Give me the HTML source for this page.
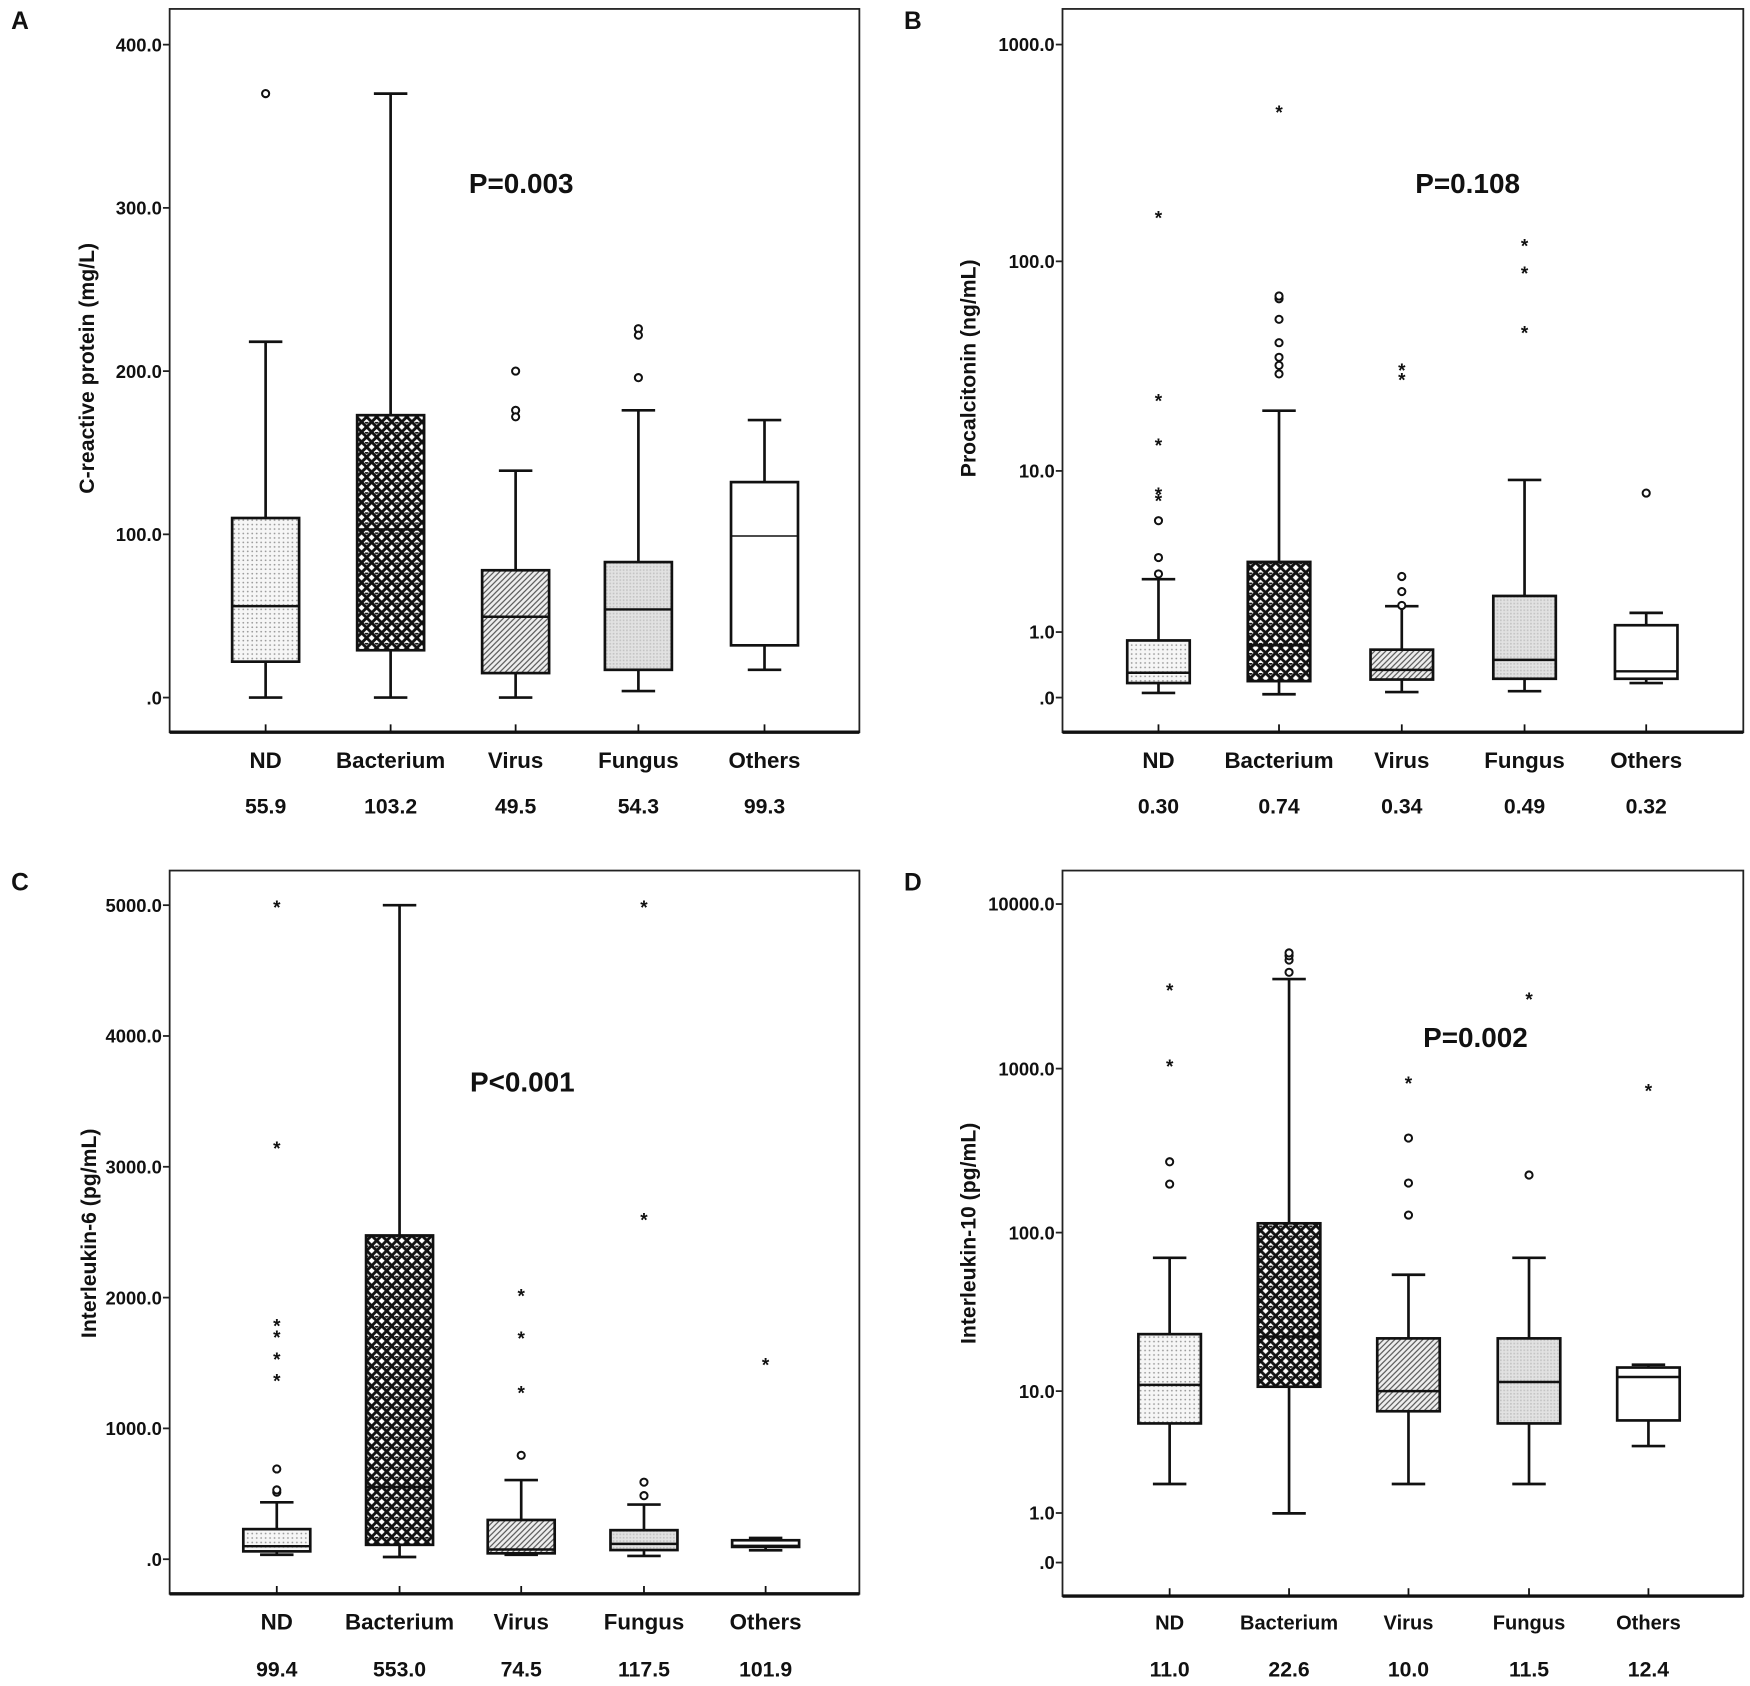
<!DOCTYPE html>
<html><head><meta charset="utf-8"><style>
html,body{margin:0;padding:0;background:#fff}
svg{display:block}
text{font-family:"Liberation Sans",Arial,sans-serif;font-weight:bold;fill:#111}
</style></head><body>
<svg id="chart" width="1750" height="1686" viewBox="0 0 1568 1510.6" preserveAspectRatio="none" xmlns="http://www.w3.org/2000/svg">
<defs>
<pattern id="pDot" width="4" height="4" patternUnits="userSpaceOnUse"><rect width="4" height="4" fill="#f6f6f6"/><circle cx="2" cy="2" r="0.8" fill="#999"/></pattern>
<pattern id="pCross" width="9" height="9" patternUnits="userSpaceOnUse"><rect width="9" height="9" fill="#fff"/><path d="M0 0L9 9M9 0L0 9" stroke="#111" stroke-width="2.6"/><circle cx="4.5" cy="0" r="1.6" fill="#111"/></pattern>
<pattern id="pHatch" width="5" height="5" patternUnits="userSpaceOnUse"><rect width="5" height="5" fill="#eee"/><path d="M-1 6L6 -1M-1 1L1 -1M4 6L6 4" stroke="#555" stroke-width="1.1"/></pattern>
<pattern id="pFine" width="3" height="3" patternUnits="userSpaceOnUse"><rect width="3" height="3" fill="#e2e2e2"/><rect width="1.5" height="1.5" fill="#c4c4c4"/></pattern>
</defs>
</svg>
<script>
// ---- data ----
const categories = ["ND","Bacterium","Virus","Fungus","Others"];
// [min, q1, median, q3, max]
const crpStats = [[0,22,56,110,218],[0,29,103,173,370],[0,15,49.5,78,139],[4,17,54,83,176],[17,32,99,132,170]];
const crpOutliers = [[370],[],[200,176,172],[196,226,222],[]];
const crpExtremes = [[],[],[],[],[]];
const crpMedianLabels = ["55.9","103.2","49.5","54.3","99.3"];
const crpTicks = [0,100,200,300,400];
const crpTickLabels = [".0","100.0","200.0","300.0","400.0"];

const pctStats = [[0.05,0.166,0.30,0.83,2.5],[0.036,0.19,0.74,3.2,19.8],[0.06,0.21,0.34,0.66,1.63],[0.07,0.22,0.49,1.93,9.0],[0.166,0.22,0.32,1.15,1.45]];
const pctOutliers = [[2.7,3.4,5.5],[29.7,32.6,35.6,41.7,53.7,67,69],[1.65,2.07,2.6],[],[7.7]];
const pctExtremes = [[7.2,7.8,13.8,22.7,163],[500],[28.6,31.6],[47.6,90,121],[]];
const pctMedianLabels = ["0.30","0.74","0.34","0.49","0.32"];
const pctTicks = [0,1,10,100,1000];
const pctTickLabels = [".0","1.0","10.0","100.0","1000.0"];

const il6Stats = [[34,60,99.4,230,435],[17,110,553,2475,5000],[34,45,74.5,300,605],[25,70,117.5,222,418],[68,94,101.9,145,162]];
const il6Outliers = [[512,530,690],[],[794],[486,589],[]];
const il6Extremes = [[1380,1545,1715,1800,3157,5000],[],[1288,1706,2030],[2611,5000],[1502]];
const il6MedianLabels = ["99.4","553.0","74.5","117.5","101.9"];
const il6Ticks = [0,1000,2000,3000,4000,5000];
const il6TickLabels = [".0","1000.0","2000.0","3000.0","4000.0","5000.0"];

const il10Stats = [[2.0,6.0,11.0,23.4,70],[0.99,10.7,22.6,114,3500],[2.0,7.3,10.0,22,55],[2.0,6.0,11.5,22,70],[4.1,6.3,12.4,14.3,14.9]];
const il10Outliers = [[198,271],[3850,4570,4850,5050],[128,201,378],[225],[]];
const il10Extremes = [[1063,3090],[],[841],[2720],[754]];
const il10MedianLabels = ["11.0","22.6","10.0","11.5","12.4"];
const il10Ticks = [0,1,10,100,1000,10000];
const il10TickLabels = [".0","1.0","10.0","100.0","1000.0","10000.0"];

const patterns = ["url(#pDot)","url(#pCross)","url(#pHatch)","url(#pFine)","#fff"];
const NS = "http://www.w3.org/2000/svg";
const svg = document.getElementById('chart');

function mk(tag, attrs, parent){
  const e = document.createElementNS(NS, tag);
  for (const k in attrs) e.setAttribute(k, attrs[k]);
  (parent||svg).appendChild(e);
  return e;
}
function txt(s, x, y, size, anchor, parent, extra){
  const t = mk('text', Object.assign({x:x, y:y, 'font-size':size, 'text-anchor':anchor||'middle'}, extra||{}), parent);
  t.textContent = s;
  return t;
}

function drawPanel(p){
  const g = mk('g', {});
  
  
  const yScale = v => p.log ? p.y0 - p.k*Math.log10(v+1) : p.y0 - p.k*v;
  const fr = mk('rect', {x:p.fx, y:p.fy, width:p.fw, height:p.fh, fill:'none', stroke:'#222', 'stroke-width':1.6}, g);
  
  
  const xa = mk('line', {x1:p.fx, x2:p.fx+p.fw, y1:p.fy+p.fh, y2:p.fy+p.fh, stroke:'#111', 'stroke-width':3}, g);
  
  
  const L = txt(p.letter, p.lx, p.fy+18, 22, 'start', g);
  
  
  p.ticks.forEach((tv, i) => {
    const y = yScale(tv);
    const tk = mk('line', {x1:p.fx-6, x2:p.fx, y1:y, y2:y, stroke:'#222', 'stroke-width':1.6}, g);
    
    
    const tl = txt(p.tickLabels[i], p.fx-7, y+6, 16.5, 'end', g);
    
    
  });
  const at = txt(p.title, 0, 0, 19, 'middle', g, {transform:`translate(${p.tx},${p.ty}) rotate(-90)`});
  
  
  const pv = txt(p.pval, p.px, p.py, 25, 'middle', g);
  
  
  categories.forEach((c, i) => {
    const cx = p.cx[i], s = p.stats[i];
    const xt = mk('line', {x1:cx, x2:cx, y1:p.fy+p.fh-7, y2:p.fy+p.fh, stroke:'#111', 'stroke-width':1.6}, g);
    
    
    const bg = mk('g', {}, g);
    
    
    const yMin=yScale(s[0]), yQ1=yScale(s[1]), yMed=yScale(s[2]), yQ3=yScale(s[3]), yMax=yScale(s[4]);
    const bw = p.bw, cw = p.cw, sw = 2.4;
    mk('line', {x1:cx, x2:cx, y1:yMax, y2:yQ3, stroke:'#111', 'stroke-width':sw}, bg);
    mk('line', {x1:cx, x2:cx, y1:yQ1, y2:yMin, stroke:'#111', 'stroke-width':sw}, bg);
    mk('line', {x1:cx-cw/2, x2:cx+cw/2, y1:yMax, y2:yMax, stroke:'#111', 'stroke-width':sw}, bg);
    mk('line', {x1:cx-cw/2, x2:cx+cw/2, y1:yMin, y2:yMin, stroke:'#111', 'stroke-width':sw}, bg);
    mk('rect', {x:cx-bw/2, y:yQ3, width:bw, height:Math.max(yQ1-yQ3,1), fill:patterns[i], stroke:'#111', 'stroke-width':sw}, bg);
    mk('line', {x1:cx-bw/2, x2:cx+bw/2, y1:yMed, y2:yMed, stroke:'#111', 'stroke-width':(i===4&&p.letter==='A')?1.3:2.2}, bg);
    p.outliers[i].forEach(v => {
      const o = mk('circle', {cx:cx, cy:yScale(v), r:3.2, fill:'#fff', stroke:'#111', 'stroke-width':1.8}, bg);
      
      
    });
    p.extremes[i].forEach(v => {
      const st = txt('*', cx, yScale(v)+8, 17, 'middle', bg);
      
      
    });
    const cl = txt(c, cx, p.labY, p.labSize, 'middle', g);
    
    
    const ml = txt(p.medLabels[i], cx, p.medY, 19, 'middle', g);
    
    
  });
}

drawPanel({name:'panel-a-crp', letter:'A', lx:10, fx:152, fy:8, fw:618, fh:648, log:false, y0:625, k:585/400,
  ticks:crpTicks, tickLabels:crpTickLabels, title:'C-reactive protein (mg/L)', tx:84, ty:330,
  pval:'P=0.003', px:467, py:173, cx:[238,350,462,572,685], bw:60, cw:30,
  stats:crpStats, outliers:crpOutliers, extremes:crpExtremes, medLabels:crpMedianLabels,
  labY:688, labSize:20, medY:729});
drawPanel({name:'panel-b-pct', letter:'B', lx:810, fx:952, fy:8, fw:610, fh:648, log:true, y0:625, k:195,
  ticks:pctTicks, tickLabels:pctTickLabels, title:'Procalcitonin (ng/mL)', tx:874, ty:330,
  pval:'P=0.108', px:1315, py:173, cx:[1038,1146,1256,1366,1475], bw:56, cw:30,
  stats:pctStats, outliers:pctOutliers, extremes:pctExtremes, medLabels:pctMedianLabels,
  labY:688, labSize:20, medY:729});
drawPanel({name:'panel-c-il6', letter:'C', lx:10, fx:152, fy:780, fw:618, fh:648, log:false, y0:1397, k:586/5000,
  ticks:il6Ticks, tickLabels:il6TickLabels, title:'Interleukin-6 (pg/mL)', tx:86, ty:1105,
  pval:'P<0.001', px:468, py:978, cx:[248,358,467,577,686], bw:60, cw:30,
  stats:il6Stats, outliers:il6Outliers, extremes:il6Extremes, medLabels:il6MedianLabels,
  labY:1460, labSize:20, medY:1502});
drawPanel({name:'panel-d-il10', letter:'D', lx:810, fx:952, fy:780, fw:610, fh:650, log:true, y0:1400, k:147.5,
  ticks:il10Ticks, tickLabels:il10TickLabels, title:'Interleukin-10 (pg/mL)', tx:874, ty:1105,
  pval:'P=0.002', px:1322, py:938, cx:[1048,1155,1262,1370,1477], bw:56, cw:30,
  stats:il10Stats, outliers:il10Outliers, extremes:il10Extremes, medLabels:il10MedianLabels,
  labY:1460, labSize:18, medY:1502});
</script>
</body></html>
